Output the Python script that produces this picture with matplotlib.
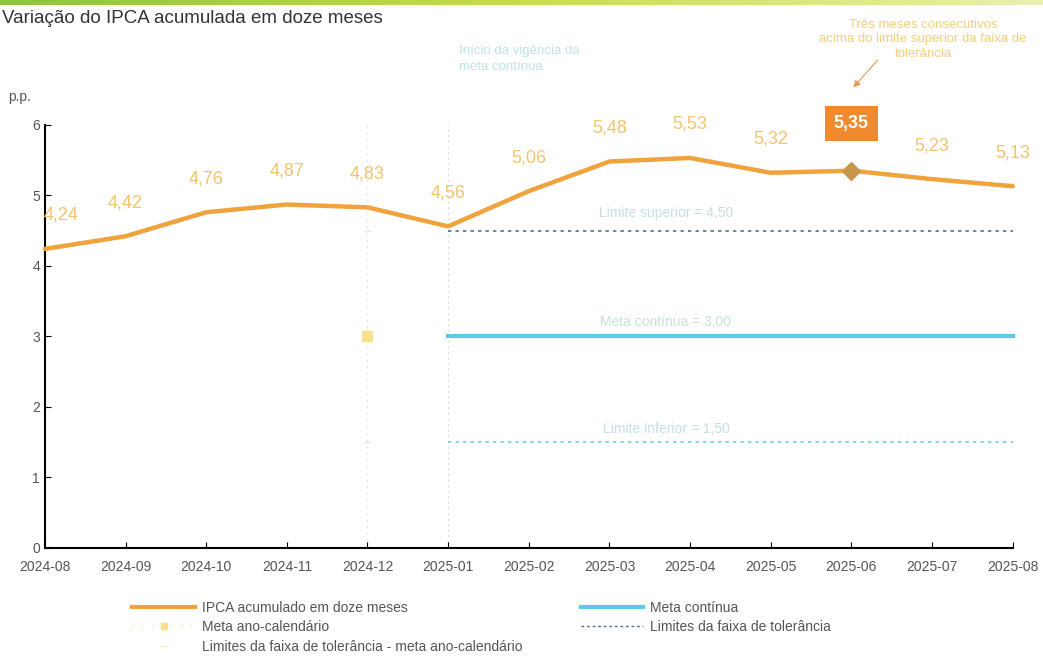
import numpy as np
import matplotlib.pyplot as plt
from matplotlib.lines import Line2D

plt.rcParams['font.family'] = ['Liberation Sans Narrow', 'Liberation Sans', 'DejaVu Sans']

# Data
months = ['2024-08', '2024-09', '2024-10', '2024-11', '2024-12', '2025-01', '2025-02',
          '2025-03', '2025-04', '2025-05', '2025-06', '2025-07', '2025-08']
ipca = [4.24, 4.42, 4.76, 4.87, 4.83, 4.56, 5.06, 5.48, 5.53, 5.32, 5.35, 5.23, 5.13]
meta_continua = 3.0
limite_superior = 4.5
limite_inferior = 1.5
meta_ano = 3.0
inicio_meta = '2025-01'
destaque = '2025-06'

orange = '#F0A23C'
label_orange = '#F2C46E'
light_blue = '#5CC9E6'

fig = plt.figure(figsize=(10.43, 6.57), dpi=100)
ax = fig.add_axes([0.043, 0.166, 0.928, 0.644])

x = np.arange(len(months))
i0 = months.index(inicio_meta)
i_dez = i0 - 1
i_h = months.index(destaque)

# vertical guide lines
ax.axvline(i0, color='#d8dcdc', lw=0.8, ls=(0, (2, 3)), zorder=1)
ax.axvline(i_dez, color='#e4e4e4', lw=0.8, ls=(0, (2, 4)), zorder=1)

# meta continua and limits
xs = x[i0:]
ax.plot(xs, [meta_continua] * len(xs), color=light_blue, lw=3, zorder=2)
ax.plot(xs, [limite_superior] * len(xs), color='#4D6C9C', lw=1.2, ls=(0, (2, 2.5)), zorder=2)
ax.plot(xs, [limite_inferior] * len(xs), color='#6FCBE3', lw=1.2, ls=(0, (2, 2.5)), zorder=2)

# meta ano-calendario (Dec 2024)
ax.plot([i_dez], [meta_ano], marker='s', ms=7, color='#F6E08A', ls='none', zorder=3)
ax.plot([i_dez, i_dez], [limite_superior, limite_inferior], marker='_', ms=6,
        color='#F3EBC8', ls='none', zorder=3)

# IPCA
ax.plot(x, ipca, color=orange, lw=3.2, solid_capstyle='round', zorder=4)
ax.plot([i_h], [ipca[i_h]], marker='D', ms=9, color='#C8964A', zorder=5)

for i, v in enumerate(ipca):
    s = f'{v:.2f}'.replace('.', ',')
    if i == i_h:
        ax.annotate(s, (i, v), xytext=(0, 28), textcoords='offset points', ha='center',
                    va='bottom', fontsize=13, color='white', fontweight='bold',
                    bbox=dict(boxstyle='square,pad=0.5', fc='#F08A2E', ec='none'), zorder=6)
    else:
        dx = 12 if i == 0 else 0
        ax.annotate(s, (i, v), xytext=(dx, 18), textcoords='offset points', ha='center',
                    va='bottom', fontsize=13, color=label_orange, zorder=6)

# line labels
ax.text(7.7, limite_superior + 0.2, 'Limite superior = 4,50', fontsize=10, color='#c7dfe2', ha='center')
ax.text(7.7, meta_continua + 0.15, 'Meta contínua = 3,00', fontsize=10, color='#c7dfe2', ha='center')
ax.text(7.7, limite_inferior + 0.13, 'Limite inferior = 1,50', fontsize=10, color='#c7dfe2', ha='center')

ax.set_xlim(0, len(months) - 1)
ax.set_ylim(0, 6)
ax.set_xticks(x)
ax.set_xticklabels(months)
ax.set_yticks(range(0, 7))
ax.tick_params(axis='both', colors='#555555', labelsize=10, length=4, direction='in')
ax.tick_params(axis='both', color='black')
ax.tick_params(axis='x', pad=9)
ax.spines['top'].set_visible(False)
ax.spines['right'].set_visible(False)
ax.spines['left'].set_linewidth(1.5)
ax.spines['bottom'].set_linewidth(1.5)
for ln in ax.lines:
    ln.set_clip_on(False)

# texts above plot
fig.text(0.002, 0.972, 'Variação do IPCA acumulada em doze meses', fontsize=13.5, color='#333333', va='center')
fig.text(0.008, 0.853, 'p.p.', fontsize=10, color='#555555', va='center')
fig.text(0.44, 0.91, 'Início da vigência da\nmeta contínua', fontsize=9.5, color='#bfe3e6',
         va='center', ha='left', linespacing=1.5)
fig.text(0.885, 0.94, 'Três meses consecutivos\nacima do limite superior da faixa de\ntolerância',
         fontsize=9.5, color='#f3cf7e', va='center', ha='center', linespacing=1.3)
ax.annotate('', xy=(i_h, 6.5), xytext=(i_h + 0.35, 6.95), xycoords='data',
            arrowprops=dict(arrowstyle='-|>', color='#E69A52', lw=0.8), annotation_clip=False)

# top colour strip
strip = fig.add_axes([0, 0.993, 1, 0.007])
strip.imshow(np.linspace(0, 1, 256)[None, :], aspect='auto',
             cmap=plt.matplotlib.colors.LinearSegmentedColormap.from_list(
                 'strip', ['#8CC63E', '#C8DC4A', '#EAF0B0']))
strip.axis('off')

# legend
handles = [
    Line2D([], [], color=orange, lw=3),
    Line2D([], [], color='#F6E08A', marker='s', ms=5, ls=(0, (1, 6)), lw=1),
    Line2D([], [], color='#F3EBC8', marker='_', ms=6, ls='none'),
    Line2D([], [], color=light_blue, lw=3),
    Line2D([], [], color='#4D6C9C', lw=1, ls=(0, (2, 2))),
]
labels = ['IPCA acumulado em doze meses', 'Meta ano-calendário',
          'Limites da faixa de tolerância - meta ano-calendário',
          'Meta contínua', 'Limites da faixa de tolerância']
fig.legend(handles, labels, loc='upper left', bbox_to_anchor=(0.115, 0.105), ncol=2,
           frameon=False, fontsize=10, handlelength=4.5, handletextpad=0.5,
           columnspacing=4.2, labelspacing=0.4, labelcolor='#555555')

fig.savefig('out.png', dpi=100)
